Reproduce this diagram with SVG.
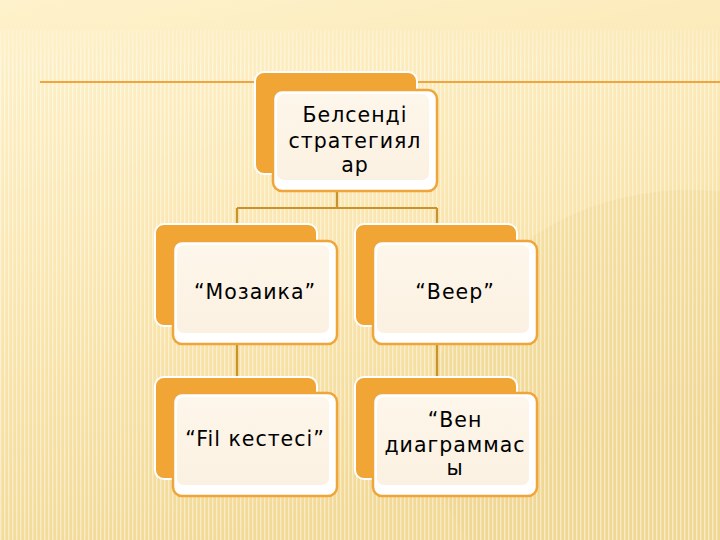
<svg xmlns="http://www.w3.org/2000/svg" width="720" height="540" viewBox="0 0 720 540">
<defs>
<linearGradient id="bg" x1="0" y1="0" x2="0.3" y2="1">
<stop offset="0" stop-color="#FEF2CC"/>
<stop offset="0.5" stop-color="#FAE6B0"/>
<stop offset="1" stop-color="#F2D996"/>
</linearGradient>
<pattern id="stripes" width="4" height="10" patternUnits="userSpaceOnUse">
<rect x="0" y="0" width="1.4" height="10" fill="#FFFFFF" opacity="0.45"/>
</pattern>
<linearGradient id="fade" x1="0" y1="0" x2="0" y2="1">
<stop offset="0" stop-color="#fff" stop-opacity="0"/>
<stop offset="0.12" stop-color="#fff" stop-opacity="1"/>
<stop offset="1" stop-color="#fff" stop-opacity="1"/>
</linearGradient>
<mask id="stripeMask"><rect x="0" y="0" width="720" height="540" fill="url(#fade)"/></mask>
<linearGradient id="card" x1="0" y1="0" x2="0" y2="1">
<stop offset="0" stop-color="#FDF6EA"/>
<stop offset="1" stop-color="#FBF1E2"/>
</linearGradient>
<style>
.back{fill:#F0A534;stroke:#FFFFFF;stroke-width:2}
.front{fill:#FFFFFF;stroke:#EFA53A;stroke-width:2.5}
.inner{fill:url(#card)}
.lbl{font-family:"DejaVu Sans","Verdana",sans-serif;font-size:20.5px;fill:#000;text-anchor:middle;letter-spacing:1px}
.conn{stroke:#C8922C;stroke-width:2.2;fill:none}
</style>
</defs>
<rect x="0" y="0" width="720" height="540" fill="url(#bg)"/>
<ellipse cx="690" cy="420" rx="260" ry="230" fill="#EFD48E" opacity="0.35"/>
<rect x="0" y="30" width="720" height="510" fill="url(#stripes)" mask="url(#stripeMask)"/>
<line x1="40" y1="82" x2="720" y2="82" stroke="#EFA640" stroke-width="2"/>

<g id="connectors">
<path class="conn" d="M337 190 V208 M237 208 H437 M237 208 V225 M437 208 V225"/>
<path class="conn" d="M237 345 V377"/>
<path class="conn" d="M437 345 V377"/>
</g>

<g id="node-root">
<rect class="back" x="255" y="72" width="162" height="102" rx="9"/>
<rect class="front" x="273" y="90" width="164" height="101" rx="9"/>
<rect class="inner" x="277" y="94" width="152" height="86" rx="7"/>
<text class="lbl" x="355" y="122">Белсенді</text>
<text class="lbl" x="355" y="148">стратегиял</text>
<text class="lbl" x="355" y="172">ар</text>
</g>

<g id="node-mozaika">
<rect class="back" x="155" y="224" width="162" height="102" rx="9"/>
<rect class="front" x="173" y="241" width="164" height="103" rx="9"/>
<rect class="inner" x="177" y="245" width="152" height="88" rx="7"/>
<text class="lbl" x="255" y="299">“Мозаика”</text>
</g>

<g id="node-veer">
<rect class="back" x="355" y="224" width="162" height="102" rx="9"/>
<rect class="front" x="373" y="241" width="164" height="103" rx="9"/>
<rect class="inner" x="377" y="245" width="152" height="88" rx="7"/>
<text class="lbl" x="455" y="299">“Веер”</text>
</g>

<g id="node-fil">
<rect class="back" x="155" y="377" width="162" height="102" rx="9"/>
<rect class="front" x="173" y="393" width="164" height="103" rx="9"/>
<rect class="inner" x="177" y="397" width="152" height="88" rx="7"/>
<text class="lbl" x="255" y="446">“Fil кестесі”</text>
</g>

<g id="node-ven">
<rect class="back" x="355" y="377" width="162" height="102" rx="9"/>
<rect class="front" x="373" y="393" width="164" height="103" rx="9"/>
<rect class="inner" x="377" y="397" width="152" height="88" rx="7"/>
<text class="lbl" x="455" y="427">“Вен</text>
<text class="lbl" x="455" y="452">диаграммас</text>
<text class="lbl" x="455" y="475">ы</text>
</g>
</svg>
